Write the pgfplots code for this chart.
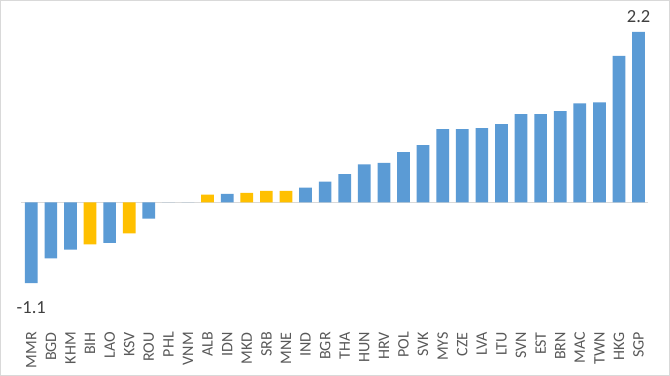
\documentclass[border=0pt]{standalone}
\usepackage{fontspec}
\setmainfont{Carlito}
\usepackage{pgfplots}
\pgfplotsset{compat=1.18}
\definecolor{barblue}{RGB}{91,155,213}
\definecolor{bargold}{RGB}{255,192,0}
\definecolor{framegray}{RGB}{217,217,217}
\definecolor{labgray}{RGB}{89,89,89}
\definecolor{datgray}{RGB}{64,64,64}
\begin{document}
\begin{tikzpicture}
\useasboundingbox (0,0) rectangle (670bp,376bp);
\fill[white] (0,0) rectangle (670bp,376bp);
\draw[framegray, line width=0.9bp] (0.45bp,0.45bp) rectangle (669.55bp,375.55bp);
\begin{axis}[
  at={(21.1bp,53.4bp)}, anchor=south west,
  scale only axis,
  x=19.59bp, y=77.5bp,
  xmin=-0.52, xmax=31.5, ymin=-1.55, ymax=2.55,
  axis line style={draw=none},
  tick style={draw=none},
  ytick=\empty,
  xtick={0,...,31},
  xticklabels={MMR,BGD,KHM,BIH,LAO,KSV,ROU,PHL,VNM,ALB,IDN,MKD,SRB,MNE,IND,BGR,THA,HUN,HRV,POL,SVK,MYS,CZE,LVA,LTU,SVN,EST,BRN,MAC,TWN,HKG,SGP},
  xticklabel style={rotate=90, anchor=east, font=\fontsize{16bp}{18bp}\selectfont, text=labgray, inner sep=5.2bp},
  ybar, bar width=12.7bp, bar shift=0pt,
  clip=false,
]
\draw[framegray, line width=1.8bp] (axis cs:-0.52,0) -- (axis cs:31.5,0);
\addplot[fill=barblue, draw=none] coordinates {
 (0,-1.04) (1,-0.72) (2,-0.61) (4,-0.52) (6,-0.21) (7,0) (8,0)
 (10,0.11) (14,0.19) (15,0.27) (16,0.365) (17,0.49) (18,0.51) (19,0.65)
 (20,0.74) (21,0.945) (22,0.945) (23,0.96) (24,1.01) (25,1.14) (26,1.14)
 (27,1.18) (28,1.28) (29,1.29) (30,1.89) (31,2.2)
};
\addplot[fill=bargold, draw=none] coordinates {
 (3,-0.54) (5,-0.40) (9,0.10) (11,0.125) (12,0.15) (13,0.15)
};
\node[anchor=south, text=datgray, font=\fontsize{18.5bp}{20bp}\selectfont, inner sep=0pt] at (axis cs:31,2.2) [yshift=9bp] {2.2};
\node[anchor=north, text=datgray, font=\fontsize{18.5bp}{20bp}\selectfont, inner sep=0pt] at (axis cs:0,-1.04) [yshift=-18bp] {-1.1};
\end{axis}
\end{tikzpicture}
\end{document}
